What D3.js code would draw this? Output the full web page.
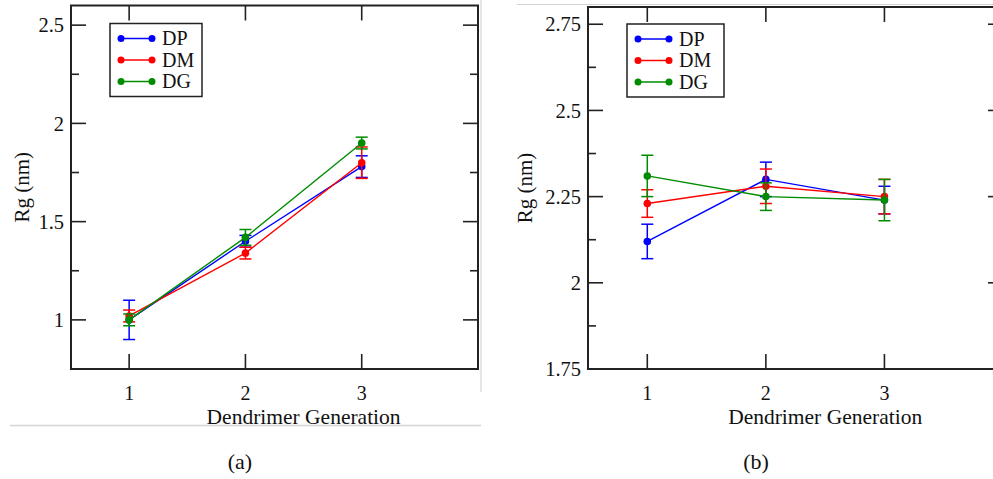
<!DOCTYPE html>
<html>
<head>
<meta charset="utf-8">
<script src="https://cdn.jsdelivr.net/npm/d3@7"></script>
<style>
  html, body { margin: 0; padding: 0; background: #fff; }
  svg { display: block; }
  text { font-family: "Liberation Serif", "Times New Roman", serif; fill: #111; }
</style>
</head>
<body>
<svg id="chart" width="993" height="479"></svg>
<script>
// Dendrimer generations on the x axis
const generations = [1, 2, 3];
const seriesNames = ["DP", "DM", "DG"];

// Panel (a): radius of gyration (nm) and error per generation
const aDP = [1.00, 1.40, 1.78];
const aDPerr = [0.10, 0.03, 0.055];
const aDM = [1.02, 1.34, 1.80];
const aDMerr = [0.03, 0.03, 0.08];
const aDG = [1.00, 1.42, 1.90];
const aDGerr = [0.03, 0.04, 0.03];

// Panel (b): radius of gyration (nm) and error per generation
const bDP = [2.12, 2.30, 2.24];
const bDPerr = [0.05, 0.05, 0.04];
const bDM = [2.23, 2.28, 2.25];
const bDMerr = [0.04, 0.05, 0.05];
const bDG = [2.31, 2.25, 2.24];
const bDGerr = [0.06, 0.04, 0.06];

// Tick labels
const xTicks = [1, 2, 3];
const aYTicks = [1, 1.5, 2, 2.5];
const aYMinor = [1.25, 1.75, 2.25];
const bYTicks = [1.75, 2, 2.25, 2.5, 2.75];
const bYMinor = [1.875, 2.125, 2.375, 2.625];

const colors = { DP: "#0000ff", DM: "#ff0000", DG: "#008c00" };

const svg = d3.select("#chart");

// Light page borders around the panels
svg.append("line").attr("x1", 10).attr("x2", 481).attr("y1", 425.5).attr("y2", 425.5)
  .attr("stroke", "#d4d4d4").attr("stroke-width", 1.5);
svg.append("line").attr("x1", 481).attr("x2", 481).attr("y1", 0).attr("y2", 392)
  .attr("stroke", "#d4d4d4").attr("stroke-width", 1.2);
svg.append("line").attr("x1", 517).attr("x2", 993).attr("y1", 4.5).attr("y2", 4.5)
  .attr("stroke", "#d4d4d4").attr("stroke-width", 1.2);

function drawPanel(cfg) {
  const x = d3.scaleLinear().domain([0.5, 4]).range([cfg.left, cfg.right]);
  const y = d3.scaleLinear().domain(cfg.yDomain).range([cfg.bottom, cfg.top]);
  const g = svg.append("g");

  // Frame
  g.append("rect")
    .attr("x", cfg.left).attr("y", cfg.top)
    .attr("width", cfg.right - cfg.left).attr("height", cfg.bottom - cfg.top)
    .attr("fill", "none").attr("stroke", "#222").attr("stroke-width", 2);

  // Inward ticks on all four sides
  function tick(x1, y1, x2, y2) {
    g.append("line").attr("x1", x1).attr("y1", y1).attr("x2", x2).attr("y2", y2)
      .attr("stroke", "#222").attr("stroke-width", 1.6);
  }
  cfg.yTicks.forEach(v => {
    tick(cfg.left, y(v), cfg.left + 15, y(v));
    tick(cfg.right, y(v), cfg.right - 15, y(v));
  });
  cfg.yMinor.forEach(v => {
    tick(cfg.left, y(v), cfg.left + 8, y(v));
    tick(cfg.right, y(v), cfg.right - 8, y(v));
  });
  xTicks.forEach(v => {
    tick(x(v), cfg.bottom, x(v), cfg.bottom - 15);
    tick(x(v), cfg.top, x(v), cfg.top + 15);
  });

  // Y tick labels
  g.selectAll(".ylab").data(cfg.yTicks).enter().append("text")
    .attr("x", cfg.left - 7).attr("y", d => y(d))
    .attr("dy", "0.35em").attr("text-anchor", "end")
    .attr("font-size", 20.5)
    .text(d => d3.format("")(d));

  // X tick labels
  g.selectAll(".xlab").data(xTicks).enter().append("text")
    .attr("x", d => x(d)).attr("y", cfg.bottom + 31)
    .attr("text-anchor", "middle").attr("font-size", 20)
    .text(d => d);

  // Axis titles
  g.append("text")
    .attr("x", x(2.5)).attr("y", cfg.bottom + 55)
    .attr("text-anchor", "middle").attr("font-size", 21.5)
    .text("Dendrimer Generation");
  g.append("text")
    .attr("transform", `translate(${cfg.left - cfg.titleGap},${(cfg.top + cfg.bottom) / 2}) rotate(-90)`)
    .attr("text-anchor", "middle").attr("font-size", 21)
    .text("Rg (nm)");

  // Caption
  g.append("text")
    .attr("x", cfg.captionX).attr("y", 469)
    .attr("text-anchor", "middle")
    .attr("font-size", 22)
    .text(cfg.caption);

  // Series: lines, error bars, markers
  const line = d3.line().x(d => x(d.g)).y(d => y(d.v));
  cfg.series.forEach(s => {
    const pts = generations.map((gen, i) => ({ g: gen, v: s.values[i], e: s.errors[i] }));
    const c = colors[s.name];
    g.append("path").datum(pts).attr("d", line)
      .attr("fill", "none").attr("stroke", c).attr("stroke-width", 1.4);
    pts.forEach(p => {
      g.append("line").attr("x1", x(p.g)).attr("x2", x(p.g))
        .attr("y1", y(p.v - p.e)).attr("y2", y(p.v + p.e))
        .attr("stroke", c).attr("stroke-width", 1.5);
      [p.v - p.e, p.v + p.e].forEach(ev => {
        g.append("line").attr("x1", x(p.g) - 6).attr("x2", x(p.g) + 6)
          .attr("y1", y(ev)).attr("y2", y(ev))
          .attr("stroke", c).attr("stroke-width", 1.5);
      });
    });
    g.selectAll(null).data(pts).enter().append("circle")
      .attr("cx", d => x(d.g)).attr("cy", d => y(d.v)).attr("r", 3.8)
      .attr("fill", c);
  });

  // Legend
  const lg = g.append("g");
  lg.append("rect")
    .attr("x", cfg.legend.x).attr("y", cfg.legend.y)
    .attr("width", cfg.legend.w).attr("height", 73)
    .attr("fill", "#fff").attr("stroke", "#222").attr("stroke-width", 1.5);
  seriesNames.forEach((name, i) => {
    const ly = cfg.legend.y + 15 + i * 21.5;
    const lx1 = cfg.legend.x + 11, lx2 = cfg.legend.x + 42;
    lg.append("line").attr("x1", lx1).attr("x2", lx2).attr("y1", ly).attr("y2", ly)
      .attr("stroke", colors[name]).attr("stroke-width", 1.5);
    [lx1, lx2].forEach(cx => lg.append("circle").attr("cx", cx).attr("cy", ly).attr("r", 3.5)
      .attr("fill", colors[name]));
    lg.append("text").attr("x", cfg.legend.x + 52).attr("y", ly).attr("dy", "0.33em")
      .attr("font-size", 20).text(name);
  });
}

drawPanel({
  left: 71, right: 478, top: 5.5, bottom: 369,
  yDomain: [0.75, 2.6], yTicks: aYTicks, yMinor: aYMinor,
  titleGap: 42,
  caption: "(a)", captionX: 240,
  legend: { x: 110, y: 23.5, w: 92 },
  series: [
    { name: "DP", values: aDP, errors: aDPerr },
    { name: "DM", values: aDM, errors: aDMerr },
    { name: "DG", values: aDG, errors: aDGerr }
  ]
});

drawPanel({
  left: 588, right: 1003, top: 7, bottom: 369,
  yDomain: [1.75, 2.8], yTicks: bYTicks, yMinor: bYMinor,
  titleGap: 56,
  caption: "(b)", captionX: 756,
  legend: { x: 627, y: 24, w: 97 },
  series: [
    { name: "DP", values: bDP, errors: bDPerr },
    { name: "DM", values: bDM, errors: bDMerr },
    { name: "DG", values: bDG, errors: bDGerr }
  ]
});
</script>
</body>
</html>
